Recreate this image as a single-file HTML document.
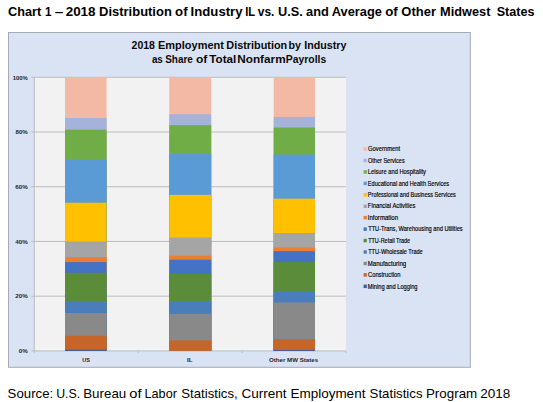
<!DOCTYPE html><html><head><meta charset="utf-8"><title>Chart 1</title><style>html,body{margin:0;padding:0;background:#fff;overflow:hidden}svg{display:block}</style></head><body>
<svg width="543" height="402" viewBox="0 0 543 402" font-family='"Liberation Sans", sans-serif'>
<rect x="0" y="0" width="543" height="402" fill="#ffffff"/>
<text x="8.09" y="15.60" font-size="12.40" font-weight="bold" fill="#000" textLength="33.15" lengthAdjust="spacingAndGlyphs">Chart</text>
<text x="45.00" y="15.60" font-size="12.40" font-weight="bold" fill="#000" textLength="6.51" lengthAdjust="spacingAndGlyphs">1</text>
<text x="54.74" y="15.60" font-size="12.40" font-weight="bold" fill="#000" textLength="8.57" lengthAdjust="spacingAndGlyphs">–</text>
<text x="65.70" y="15.60" font-size="12.40" font-weight="bold" fill="#000" textLength="29.87" lengthAdjust="spacingAndGlyphs">2018</text>
<text x="99.09" y="15.60" font-size="12.40" font-weight="bold" fill="#000" textLength="72.74" lengthAdjust="spacingAndGlyphs">Distribution</text>
<text x="175.07" y="15.60" font-size="12.40" font-weight="bold" fill="#000" textLength="12.48" lengthAdjust="spacingAndGlyphs">of</text>
<text x="190.58" y="15.60" font-size="12.40" font-weight="bold" fill="#000" textLength="51.99" lengthAdjust="spacingAndGlyphs">Industry</text>
<text x="245.22" y="15.60" font-size="12.40" font-weight="bold" fill="#000" textLength="9.90" lengthAdjust="spacingAndGlyphs">IL</text>
<text x="257.78" y="15.60" font-size="12.40" font-weight="bold" fill="#000" textLength="16.66" lengthAdjust="spacingAndGlyphs">vs.</text>
<text x="278.14" y="15.60" font-size="12.40" font-weight="bold" fill="#000" textLength="24.79" lengthAdjust="spacingAndGlyphs">U.S.</text>
<text x="306.12" y="15.60" font-size="12.40" font-weight="bold" fill="#000" textLength="22.75" lengthAdjust="spacingAndGlyphs">and</text>
<text x="331.82" y="15.60" font-size="12.40" font-weight="bold" fill="#000" textLength="50.09" lengthAdjust="spacingAndGlyphs">Average</text>
<text x="385.17" y="15.60" font-size="12.40" font-weight="bold" fill="#000" textLength="12.59" lengthAdjust="spacingAndGlyphs">of</text>
<text x="401.38" y="15.60" font-size="12.40" font-weight="bold" fill="#000" textLength="34.64" lengthAdjust="spacingAndGlyphs">Other</text>
<text x="440.11" y="15.60" font-size="12.40" font-weight="bold" fill="#000" textLength="50.28" lengthAdjust="spacingAndGlyphs">Midwest</text>
<text x="496.72" y="15.60" font-size="12.40" font-weight="bold" fill="#000" textLength="37.80" lengthAdjust="spacingAndGlyphs">States</text>
<rect x="8.5" y="32.5" width="461.8" height="334.8" fill="#DAE3F3" stroke="#A6ABB3" stroke-width="1"/>
<text x="131.58" y="48.50" font-size="10.40" font-weight="bold" fill="#0a0a0a" textLength="23.38" lengthAdjust="spacingAndGlyphs">2018</text>
<text x="158.03" y="48.50" font-size="10.40" font-weight="bold" fill="#0a0a0a" textLength="65.89" lengthAdjust="spacingAndGlyphs">Employment</text>
<text x="226.34" y="48.50" font-size="10.40" font-weight="bold" fill="#0a0a0a" textLength="60.81" lengthAdjust="spacingAndGlyphs">Distribution</text>
<text x="288.56" y="48.50" font-size="10.40" font-weight="bold" fill="#0a0a0a" textLength="12.42" lengthAdjust="spacingAndGlyphs">by</text>
<text x="304.25" y="48.50" font-size="10.40" font-weight="bold" fill="#0a0a0a" textLength="42.20" lengthAdjust="spacingAndGlyphs">Industry</text>
<text x="151.91" y="63.20" font-size="10.40" font-weight="bold" fill="#0a0a0a" textLength="10.91" lengthAdjust="spacingAndGlyphs">as</text>
<text x="165.20" y="63.20" font-size="10.40" font-weight="bold" fill="#0a0a0a" textLength="27.69" lengthAdjust="spacingAndGlyphs">Share</text>
<text x="195.92" y="63.20" font-size="10.40" font-weight="bold" fill="#0a0a0a" textLength="11.33" lengthAdjust="spacingAndGlyphs">of</text>
<text x="209.28" y="63.20" font-size="10.40" font-weight="bold" fill="#0a0a0a" textLength="26.99" lengthAdjust="spacingAndGlyphs">Total</text>
<text x="237.28" y="63.20" font-size="10.40" font-weight="bold" fill="#0a0a0a" textLength="48.35" lengthAdjust="spacingAndGlyphs">Nonfarm</text>
<text x="285.87" y="63.20" font-size="10.40" font-weight="bold" fill="#0a0a0a" textLength="40.35" lengthAdjust="spacingAndGlyphs">Payrolls</text>
<rect x="34.3" y="77.30" width="311.7" height="273.60" fill="#F2F2F2"/>
<line x1="31.2" y1="77.30" x2="346" y2="77.30" stroke="#BDBDBD" stroke-width="1"/>
<line x1="31.2" y1="132.02" x2="346" y2="132.02" stroke="#BDBDBD" stroke-width="1"/>
<line x1="31.2" y1="186.74" x2="346" y2="186.74" stroke="#BDBDBD" stroke-width="1"/>
<line x1="31.2" y1="241.46" x2="346" y2="241.46" stroke="#BDBDBD" stroke-width="1"/>
<line x1="31.2" y1="296.18" x2="346" y2="296.18" stroke="#BDBDBD" stroke-width="1"/>
<line x1="31.2" y1="350.90" x2="346" y2="350.90" stroke="#BDBDBD" stroke-width="1"/>
<line x1="34.3" y1="77.30" x2="34.3" y2="350.90" stroke="#BDBDBD" stroke-width="1"/>
<line x1="34.30" y1="350.90" x2="34.30" y2="353.2" stroke="#BDBDBD" stroke-width="1"/>
<line x1="138.20" y1="350.90" x2="138.20" y2="353.2" stroke="#BDBDBD" stroke-width="1"/>
<line x1="242.10" y1="350.90" x2="242.10" y2="353.2" stroke="#BDBDBD" stroke-width="1"/>
<line x1="346.00" y1="350.90" x2="346.00" y2="353.2" stroke="#BDBDBD" stroke-width="1"/>
<rect x="65.00" y="77.00" width="41.60" height="273.90" fill="#F4B9A5"/>
<rect x="65.00" y="118.00" width="41.60" height="232.90" fill="#A5B3DB"/>
<rect x="65.00" y="129.70" width="41.60" height="221.20" fill="#70AD47"/>
<rect x="65.00" y="159.60" width="41.60" height="191.30" fill="#5B9BD5"/>
<rect x="65.00" y="202.70" width="41.60" height="148.20" fill="#FFC000"/>
<rect x="65.00" y="241.50" width="41.60" height="109.40" fill="#A5A5A5"/>
<rect x="65.00" y="257.20" width="41.60" height="93.70" fill="#ED7D31"/>
<rect x="65.00" y="262.10" width="41.60" height="88.80" fill="#4472C4"/>
<rect x="65.00" y="272.80" width="41.60" height="78.10" fill="#5B8C3A"/>
<rect x="65.00" y="301.80" width="41.60" height="49.10" fill="#4A7EBB"/>
<rect x="65.00" y="313.00" width="41.60" height="37.90" fill="#898989"/>
<rect x="65.00" y="335.80" width="41.60" height="15.10" fill="#C6652A"/>
<rect x="65.00" y="349.70" width="41.60" height="1.20" fill="#3B5C9E"/>
<rect x="169.30" y="77.00" width="41.90" height="273.90" fill="#F4B9A5"/>
<rect x="169.30" y="114.20" width="41.90" height="236.70" fill="#A5B3DB"/>
<rect x="169.30" y="125.20" width="41.90" height="225.70" fill="#70AD47"/>
<rect x="169.30" y="153.60" width="41.90" height="197.30" fill="#5B9BD5"/>
<rect x="169.30" y="194.90" width="41.90" height="156.00" fill="#FFC000"/>
<rect x="169.30" y="237.50" width="41.90" height="113.40" fill="#A5A5A5"/>
<rect x="169.30" y="255.70" width="41.90" height="95.20" fill="#ED7D31"/>
<rect x="169.30" y="259.70" width="41.90" height="91.20" fill="#4472C4"/>
<rect x="169.30" y="274.00" width="41.90" height="76.90" fill="#5B8C3A"/>
<rect x="169.30" y="301.00" width="41.90" height="49.90" fill="#4A7EBB"/>
<rect x="169.30" y="313.90" width="41.90" height="37.00" fill="#898989"/>
<rect x="169.30" y="340.30" width="41.90" height="10.60" fill="#C6652A"/>
<rect x="169.30" y="350.90" width="41.90" height="0.00" fill="#3B5C9E"/>
<rect x="273.70" y="77.00" width="41.30" height="273.90" fill="#F4B9A5"/>
<rect x="273.70" y="116.90" width="41.30" height="234.00" fill="#A5B3DB"/>
<rect x="273.70" y="127.50" width="41.30" height="223.40" fill="#70AD47"/>
<rect x="273.70" y="154.60" width="41.30" height="196.30" fill="#5B9BD5"/>
<rect x="273.70" y="198.70" width="41.30" height="152.20" fill="#FFC000"/>
<rect x="273.70" y="233.00" width="41.30" height="117.90" fill="#A5A5A5"/>
<rect x="273.70" y="247.50" width="41.30" height="103.40" fill="#ED7D31"/>
<rect x="273.70" y="251.20" width="41.30" height="99.70" fill="#4472C4"/>
<rect x="273.70" y="262.10" width="41.30" height="88.80" fill="#5B8C3A"/>
<rect x="273.70" y="291.00" width="41.30" height="59.90" fill="#4A7EBB"/>
<rect x="273.70" y="302.50" width="41.30" height="48.40" fill="#898989"/>
<rect x="273.70" y="339.10" width="41.30" height="11.80" fill="#C6652A"/>
<rect x="273.70" y="350.00" width="41.30" height="0.90" fill="#3B5C9E"/>
<text x="12.65" y="79.50" font-size="6.10" font-weight="bold" fill="#262626" textLength="15.12" lengthAdjust="spacingAndGlyphs">100%</text>
<text x="15.52" y="134.22" font-size="6.10" font-weight="bold" fill="#262626" textLength="12.28" lengthAdjust="spacingAndGlyphs">80%</text>
<text x="15.25" y="188.94" font-size="6.10" font-weight="bold" fill="#262626" textLength="12.55" lengthAdjust="spacingAndGlyphs">60%</text>
<text x="15.38" y="243.66" font-size="6.10" font-weight="bold" fill="#262626" textLength="12.42" lengthAdjust="spacingAndGlyphs">40%</text>
<text x="15.31" y="298.38" font-size="6.10" font-weight="bold" fill="#262626" textLength="12.48" lengthAdjust="spacingAndGlyphs">20%</text>
<text x="18.75" y="353.10" font-size="6.10" font-weight="bold" fill="#262626" textLength="9.01" lengthAdjust="spacingAndGlyphs">0%</text>
<text x="82.17" y="361.90" font-size="6.20" font-weight="bold" fill="#262626" textLength="7.65" lengthAdjust="spacingAndGlyphs">US</text>
<text x="186.96" y="361.90" font-size="6.20" font-weight="bold" fill="#262626" textLength="5.62" lengthAdjust="spacingAndGlyphs">IL</text>
<text x="269.05" y="361.90" font-size="6.20" font-weight="bold" fill="#262626" textLength="49.10" lengthAdjust="spacingAndGlyphs">Other MW States</text>
<rect x="363.6" y="147.30" width="3.2" height="3.5" fill="#F4B9A5"/>
<text x="368.01" y="151.25" font-size="6.30" font-weight="normal" fill="#000" textLength="32.11" lengthAdjust="spacingAndGlyphs" stroke="#000" stroke-width="0.15">Government</text>
<rect x="363.6" y="158.74" width="3.2" height="3.5" fill="#A5B3DB"/>
<text x="368.02" y="162.69" font-size="6.30" font-weight="normal" fill="#000" textLength="36.66" lengthAdjust="spacingAndGlyphs" stroke="#000" stroke-width="0.15">Other Services</text>
<rect x="363.6" y="170.18" width="3.2" height="3.5" fill="#70AD47"/>
<text x="367.84" y="174.13" font-size="6.30" font-weight="normal" fill="#000" textLength="58.10" lengthAdjust="spacingAndGlyphs" stroke="#000" stroke-width="0.15">Leisure and Hospitality</text>
<rect x="363.6" y="181.62" width="3.2" height="3.5" fill="#5B9BD5"/>
<text x="367.85" y="185.57" font-size="6.30" font-weight="normal" fill="#000" textLength="81.34" lengthAdjust="spacingAndGlyphs" stroke="#000" stroke-width="0.15">Educational and Health Services</text>
<rect x="363.6" y="193.06" width="3.2" height="3.5" fill="#FFC000"/>
<text x="367.86" y="197.01" font-size="6.30" font-weight="normal" fill="#000" textLength="87.95" lengthAdjust="spacingAndGlyphs" stroke="#000" stroke-width="0.15">Professional and Business Services</text>
<rect x="363.6" y="204.50" width="3.2" height="3.5" fill="#A5A5A5"/>
<text x="367.83" y="208.45" font-size="6.30" font-weight="normal" fill="#000" textLength="47.50" lengthAdjust="spacingAndGlyphs" stroke="#000" stroke-width="0.15">Financial Activities</text>
<rect x="363.6" y="215.94" width="3.2" height="3.5" fill="#ED7D31"/>
<text x="367.75" y="219.89" font-size="6.30" font-weight="normal" fill="#000" textLength="30.32" lengthAdjust="spacingAndGlyphs" stroke="#000" stroke-width="0.15">Information</text>
<rect x="363.6" y="227.38" width="3.2" height="3.5" fill="#4472C4"/>
<text x="368.19" y="231.33" font-size="6.30" font-weight="normal" fill="#000" textLength="94.50" lengthAdjust="spacingAndGlyphs" stroke="#000" stroke-width="0.15">TTU-Trans, Warehousing and Utilities</text>
<rect x="363.6" y="238.82" width="3.2" height="3.5" fill="#5B8C3A"/>
<text x="368.19" y="242.77" font-size="6.30" font-weight="normal" fill="#000" textLength="41.98" lengthAdjust="spacingAndGlyphs" stroke="#000" stroke-width="0.15">TTU-Retail Trade</text>
<rect x="363.6" y="250.26" width="3.2" height="3.5" fill="#4A7EBB"/>
<text x="368.19" y="254.21" font-size="6.30" font-weight="normal" fill="#000" textLength="54.54" lengthAdjust="spacingAndGlyphs" stroke="#000" stroke-width="0.15">TTU-Wholesale Trade</text>
<rect x="363.6" y="261.70" width="3.2" height="3.5" fill="#898989"/>
<text x="367.82" y="265.65" font-size="6.30" font-weight="normal" fill="#000" textLength="38.29" lengthAdjust="spacingAndGlyphs" stroke="#000" stroke-width="0.15">Manufacturing</text>
<rect x="363.6" y="273.14" width="3.2" height="3.5" fill="#C6652A"/>
<text x="368.01" y="277.09" font-size="6.30" font-weight="normal" fill="#000" textLength="32.46" lengthAdjust="spacingAndGlyphs" stroke="#000" stroke-width="0.15">Construction</text>
<rect x="363.6" y="284.58" width="3.2" height="3.5" fill="#3B5C9E"/>
<text x="367.84" y="288.53" font-size="6.30" font-weight="normal" fill="#000" textLength="49.65" lengthAdjust="spacingAndGlyphs" stroke="#000" stroke-width="0.15">Mining and Logging</text>
<text x="7.64" y="397.70" font-size="12.60" font-weight="normal" fill="#000" textLength="45.53" lengthAdjust="spacingAndGlyphs">Source:</text>
<text x="56.21" y="397.70" font-size="12.60" font-weight="normal" fill="#000" textLength="23.95" lengthAdjust="spacingAndGlyphs">U.S.</text>
<text x="83.23" y="397.70" font-size="12.60" font-weight="normal" fill="#000" textLength="43.03" lengthAdjust="spacingAndGlyphs">Bureau</text>
<text x="129.31" y="397.70" font-size="12.60" font-weight="normal" fill="#000" textLength="12.25" lengthAdjust="spacingAndGlyphs">of</text>
<text x="144.49" y="397.70" font-size="12.60" font-weight="normal" fill="#000" textLength="32.44" lengthAdjust="spacingAndGlyphs">Labor</text>
<text x="181.34" y="397.70" font-size="12.60" font-weight="normal" fill="#000" textLength="56.33" lengthAdjust="spacingAndGlyphs">Statistics,</text>
<text x="241.42" y="397.70" font-size="12.60" font-weight="normal" fill="#000" textLength="45.24" lengthAdjust="spacingAndGlyphs">Current</text>
<text x="290.42" y="397.70" font-size="12.60" font-weight="normal" fill="#000" textLength="74.98" lengthAdjust="spacingAndGlyphs">Employment</text>
<text x="369.64" y="397.70" font-size="12.60" font-weight="normal" fill="#000" textLength="52.90" lengthAdjust="spacingAndGlyphs">Statistics</text>
<text x="425.93" y="397.70" font-size="12.60" font-weight="normal" fill="#000" textLength="51.33" lengthAdjust="spacingAndGlyphs">Program</text>
<text x="480.22" y="397.70" font-size="12.60" font-weight="normal" fill="#000" textLength="30.08" lengthAdjust="spacingAndGlyphs">2018</text>
</svg></body></html>
